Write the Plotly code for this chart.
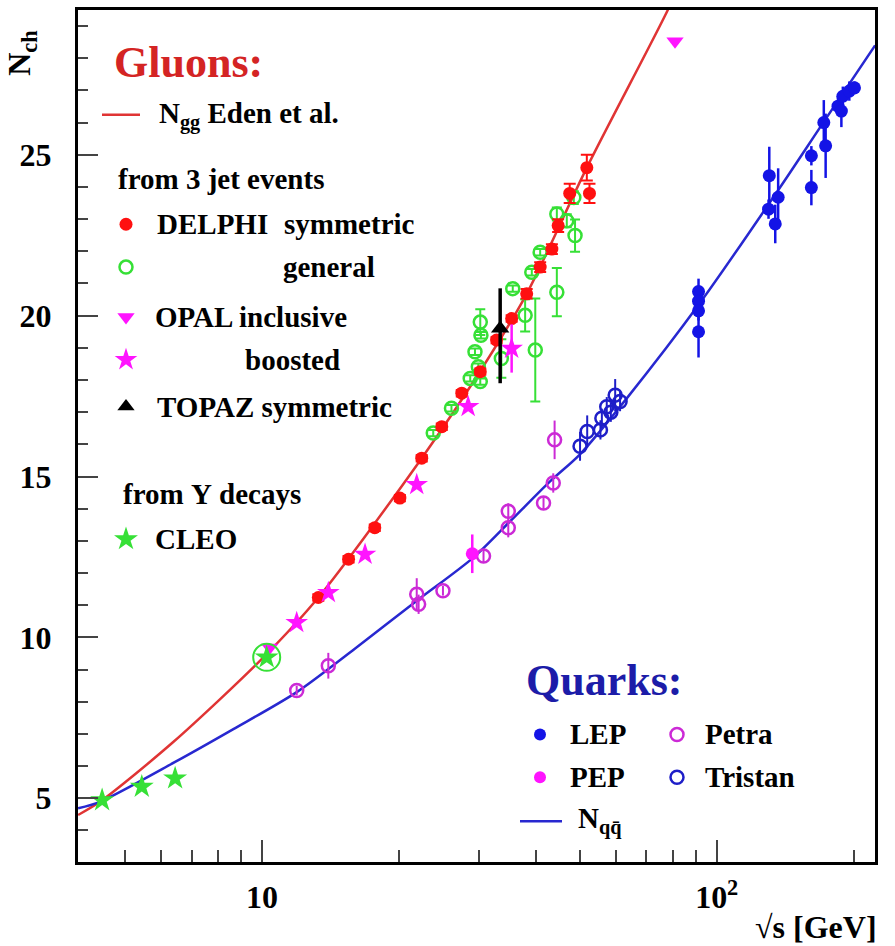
import plotly.graph_objects as go

# ---------------- data ----------------
# theory curves (sqrt(s) in GeV, multiplicity)
E_gg = [3.94, 4.40, 6.37, 10.07, 13.3, 22.45, 30.2, 38.2, 51.8, 78.0, 82.0]
N_gg = [4.48, 4.89, 6.74, 9.38, 11.24, 15.57, 18.28, 20.68, 24.60, 29.49, 30.2]

E_qq = [3.94, 4.40, 6.44, 8.65, 11.92, 16.0, 21.9, 29.15, 35.14, 43.0, 50.1, 63.4, 91.9, 138.0, 171.5, 223.0]
N_qq = [4.69, 4.89, 6.13, 7.15, 8.30, 9.65, 11.14, 12.48, 13.61, 14.85, 15.70, 17.43, 20.40, 24.0, 26.0, 28.4]

# gluon jets: DELPHI symmetric 3-jet events
E_delphi_sym = [13.3, 15.5, 17.7, 20.1, 22.45, 24.85, 27.5, 30.2, 32.8, 35.4, 38.2, 40.9, 43.4, 44.8, 47.5, 52.5, 51.8]
N_delphi_sym = [11.24, 12.43, 13.41, 14.33, 15.57, 16.55, 17.59, 18.26, 19.24, 19.91, 20.68, 21.51, 22.07, 22.80, 23.80, 23.80, 24.60]
dN_delphi_sym = [0.1, 0.1, 0.1, 0.1, 0.1, 0.1, 0.1, 0.1, 0.1, 0.1, 0.15, 0.15, 0.15, 0.2, 0.3, 0.3, 0.4]

# DELPHI general topologies
E_delphi_gen = [23.8, 26.1, 28.7, 30.2, 29.9, 29.4, 30.3, 30.2, 33.6, 37.9, 35.6, 39.2, 40.9, 44.5, 46.8, 48.8, 48.5, 39.9, 44.5]
N_delphi_gen = [16.35, 17.12, 18.05, 17.95, 18.41, 18.88, 19.39, 19.80, 18.67, 20.01, 20.84, 21.35, 21.97, 23.16, 22.95, 22.49, 23.67, 18.93, 20.73]
dN_delphi_gen = [0.1, 0.1, 0.1, 0.1, 0.1, 0.1, 0.1, 0.4, 0.6, 0.5, 0.1, 0.1, 0.1, 0.2, 0.2, 0.5, 0.2, 1.6, 0.75]

# OPAL
E_opal_incl = [10.4, 80.96]
N_opal_incl = [9.69, 28.53]
E_opal_boost = [11.92, 13.99, 16.85, 21.89, 28.4, 35.4]
N_opal_boost = [10.46, 11.39, 12.58, 14.75, 17.17, 18.98]
dN_opal_boost = [0.1, 0.1, 0.1, 0.1, 0.1, 0.75]

# TOPAZ symmetric
E_topaz = [33.4]
N_topaz = [19.6]
dN_topaz_up = [1.25]
dN_topaz_dn = [1.7]

# CLEO (Upsilon decays)
E_cleo = [4.45, 5.44, 6.44, 10.24]
N_cleo = [4.94, 5.36, 5.62, 9.38]

# quark jets
E_lep = [91.2, 91.2, 91.2, 91.2, 130.5, 130.0, 136.5, 134.5, 161.5, 161.5, 172.0, 173.6, 184.8, 189.4, 188.0, 195.7, 200.9]
N_lep = [20.75, 20.45, 20.15, 19.50, 24.35, 23.31, 23.68, 22.85, 24.97, 23.98, 26.00, 25.28, 26.51, 26.82, 26.36, 26.98, 27.08]
dN_lep = [0.4, 0.3, 0.3, 0.8, 0.9, 0.3, 0.9, 0.6, 0.3, 0.55, 0.7, 1.0, 0.3, 0.3, 0.5, 0.3, 0.2]

E_petra = [11.92, 13.99, 21.89, 22.1, 25.0, 30.7, 34.8, 34.8, 41.6, 43.7, 44.0]
N_petra = [8.35, 9.12, 11.34, 11.03, 11.45, 12.53, 13.92, 13.41, 14.18, 14.80, 16.14]
dN_petra = [0.15, 0.4, 0.5, 0.3, 0.15, 0.2, 0.25, 0.3, 0.2, 0.3, 0.6]

E_pep = [29.0]
N_pep = [12.6]
dN_pep = [0.6]

E_tristan = [50.05, 51.9, 55.5, 55.9, 57.3, 58.5, 59.8, 61.3]
N_tristan = [15.94, 16.40, 16.45, 16.81, 17.17, 17.00, 17.53, 17.33]
dN_tristan = [0.45, 0.5, 0.3, 0.3, 0.3, 0.3, 0.5, 0.3]

# axis ticks
x_ticks = [10, 100]
x_ticktext = ["10", "10<sup>2</sup>"]
x_minor = [5, 6, 7, 8, 9, 20, 30, 40, 50, 60, 70, 80, 90, 200]
y_ticks = [5, 10, 15, 20, 25]

# ---------------- styling ----------------
SERIF = "Liberation Serif, Times New Roman, serif"
RED = "#ff1010"
RED_LINE = "#e03434"
GREEN = "#36e036"
MAGENTA = "#ff14ff"
PETRA = "#cc2ad6"
BLUE = "#1414e6"
BLUE_LINE = "#2828d0"
TRISTAN = "#1e1ec8"

W, H = 895, 946
L, R, T, B = 78, 875, 7, 862  # plot area in pixels

fig = go.Figure()

# theory curves
fig.add_trace(go.Scatter(x=E_gg, y=N_gg, mode="lines", line=dict(color=RED_LINE, width=2.5, shape="spline", smoothing=0.8)))
fig.add_trace(go.Scatter(x=E_qq, y=N_qq, mode="lines", line=dict(color=BLUE_LINE, width=2.5, shape="spline", smoothing=0.8)))

# quark data
fig.add_trace(go.Scatter(x=E_petra, y=N_petra, mode="markers",
                         error_y=dict(type="data", array=dN_petra, color=PETRA, thickness=2, width=0),
                         marker=dict(symbol="circle-open", size=13, color=PETRA, line=dict(width=2.5))))
fig.add_trace(go.Scatter(x=E_pep, y=N_pep, mode="markers",
                         error_y=dict(type="data", array=dN_pep, color=MAGENTA, thickness=2.5, width=0),
                         marker=dict(symbol="circle", size=13, color=MAGENTA)))
fig.add_trace(go.Scatter(x=E_tristan, y=N_tristan, mode="markers",
                         error_y=dict(type="data", array=dN_tristan, color=TRISTAN, thickness=2, width=0),
                         marker=dict(symbol="circle-open", size=13, color=TRISTAN, line=dict(width=2.5))))
fig.add_trace(go.Scatter(x=E_lep, y=N_lep, mode="markers",
                         error_y=dict(type="data", array=dN_lep, color=BLUE, thickness=2.5, width=0),
                         marker=dict(symbol="circle", size=13, color=BLUE)))

# gluon data
fig.add_trace(go.Scatter(x=E_delphi_gen, y=N_delphi_gen, mode="markers",
                         error_y=dict(type="data", array=dN_delphi_gen, color=GREEN, thickness=2, width=5),
                         marker=dict(symbol="circle-open", size=13, color=GREEN, line=dict(width=2.5))))
fig.add_trace(go.Scatter(x=E_delphi_sym, y=N_delphi_sym, mode="markers",
                         error_y=dict(type="data", array=dN_delphi_sym, color=RED, thickness=2, width=6),
                         marker=dict(symbol="circle", size=13, color=RED)))
fig.add_trace(go.Scatter(x=E_opal_boost, y=N_opal_boost, mode="markers",
                         error_y=dict(type="data", array=dN_opal_boost, color=MAGENTA, thickness=2.5, width=0),
                         marker=dict(symbol="star", size=17, color=MAGENTA)))
fig.add_trace(go.Scatter(x=E_opal_incl, y=N_opal_incl, mode="markers",
                         marker=dict(symbol="triangle-down", size=15, color=MAGENTA)))
fig.add_trace(go.Scatter(x=E_cleo, y=N_cleo, mode="markers",
                         marker=dict(symbol="star", size=18, color=GREEN)))
# ring marking the CLEO point at the Upsilon
fig.add_trace(go.Scatter(x=E_cleo[-1:], y=N_cleo[-1:], mode="markers",
                         marker=dict(symbol="circle-open", size=27, color=GREEN, line=dict(width=2))))
fig.add_trace(go.Scatter(x=E_topaz, y=N_topaz, mode="markers",
                         error_y=dict(type="data", array=dN_topaz_up, arrayminus=dN_topaz_dn, color="black", thickness=3.5, width=0),
                         marker=dict(symbol="triangle-up", size=16, color="black")))

# ---------------- key (drawn on a pixel-space overlay axis) ----------------
key_glyphs = [
    (126, 222, "circle", RED, 13, 0),
    (126, 265, "circle-open", GREEN, 13, 2.5),
    (126, 315, "triangle-down", MAGENTA, 15, 0),
    (126, 358, "star", MAGENTA, 17, 0),
    (126, 405, "triangle-up", "black", 15, 0),
    (126, 538, "star", GREEN, 18, 0),
    (540, 734, "circle", BLUE, 12, 0),
    (677, 734, "circle-open", PETRA, 13, 2.5),
    (540, 777, "circle", MAGENTA, 12, 0),
    (677, 777, "circle-open", TRISTAN, 13, 2.5),
]
for gx, gy, sym, col, sz, lw in key_glyphs:
    fig.add_trace(go.Scatter(x=[gx], y=[gy], xaxis="x2", yaxis="y2", mode="markers",
                             marker=dict(symbol=sym, size=sz, color=col, line=dict(width=lw, color=col))))
fig.add_trace(go.Scatter(x=[102, 140], y=[112, 112], xaxis="x2", yaxis="y2", mode="lines",
                         line=dict(color=RED_LINE, width=2.5)))
fig.add_trace(go.Scatter(x=[520, 562], y=[821, 821], xaxis="x2", yaxis="y2", mode="lines",
                         line=dict(color=BLUE_LINE, width=2.5)))


def px(x, y):
    return (x - L) / (R - L), (B - y) / (B - T)


annotations = []


def label(x, y, text, size=29, color="black", anchor="left", angle=0):
    xp, yp = px(x, y)
    annotations.append(dict(x=xp, y=yp, xref="paper", yref="paper", text="<b>" + text + "</b>",
                            showarrow=False, xanchor=anchor, yanchor="middle", textangle=angle,
                            font=dict(family=SERIF, size=size, color=color)))


label(112, 60, "Gluons:", size=44, color="#d42424")
label(157, 113, "N<sub>gg</sub> Eden et al.")
label(116, 177, "from 3 jet events")
label(155, 222, "DELPHI")
label(282, 222, "symmetric")
label(281, 265, "general")
label(153, 315, "OPAL inclusive")
label(243, 358, "boosted")
label(155, 405, "TOPAZ symmetric")
label(121, 493, "from Υ decays")
label(153, 538, "CLEO")
label(524, 680, "Quarks:", size=44, color="#1c1ca8")
label(568, 734, "LEP")
label(703, 734, "Petra")
label(568, 777, "PEP")
label(703, 777, "Tristan")
label(576, 820, "N<sub>qq̄</sub>")
label(879, 927, "√s [GeV]", size=32, anchor="right")
label(22, 50, "N<sub>ch</sub>", size=32, anchor="center", angle=-90)

axis_font = dict(family=SERIF, size=32, color="black")

fig.update_layout(
    width=W, height=H,
    margin=dict(l=L, r=W - R, t=T, b=H - B),
    paper_bgcolor="white", plot_bgcolor="white",
    showlegend=False,
    font=dict(family=SERIF),
    annotations=annotations,
    xaxis=dict(type="log", range=[0.5953, 2.3481], showgrid=False, zeroline=False,
               showline=True, linecolor="black", linewidth=3, mirror=True,
               tickmode="array", tickvals=x_ticks, ticktext=["<b>" + t + "</b>" for t in x_ticktext],
               ticks="inside", ticklen=22, tickwidth=1.5, tickcolor="#444",
               tickfont=axis_font, ticklabelstandoff=5,
               minor=dict(tickmode="array", tickvals=x_minor, ticks="inside", ticklen=12,
                          tickwidth=1.5, tickcolor="#444")),
    yaxis=dict(range=[3.02, 29.5], showgrid=False, zeroline=False,
               showline=True, linecolor="black", linewidth=3, mirror=True,
               tickmode="array", tickvals=y_ticks, ticktext=["<b>%d</b>" % v for v in y_ticks],
               ticks="inside", ticklen=20, tickwidth=1.5, tickcolor="#444",
               tickfont=axis_font, ticklabelstandoff=17,
               minor=dict(tick0=0, dtick=1, ticks="inside", ticklen=10, tickwidth=1.5, tickcolor="#444")),
    xaxis2=dict(range=[L, R], overlaying="x", visible=False, fixedrange=True),
    yaxis2=dict(range=[B, T], overlaying="y", visible=False, fixedrange=True),
)

fig.write_html("out.html")
